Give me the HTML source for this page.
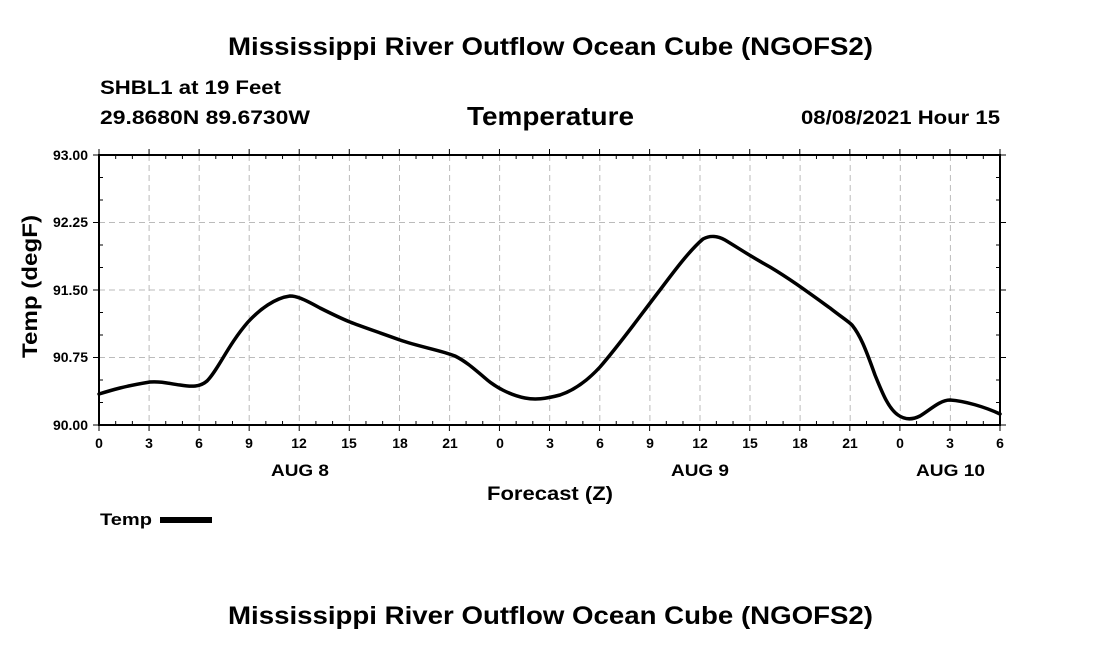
<!DOCTYPE html>
<html><head><meta charset="utf-8"><style>
html,body{margin:0;padding:0;background:#fff;}
svg{display:block;font-family:"Liberation Sans",Arial,sans-serif;font-weight:bold;}
</style></head><body>
<svg width="1100" height="650" viewBox="0 0 1100 650" xmlns="http://www.w3.org/2000/svg">
<rect width="1100" height="650" fill="#fff"/>
<text x="228" y="55" font-size="25" textLength="645" lengthAdjust="spacingAndGlyphs">Mississippi River Outflow Ocean Cube (NGOFS2)</text>
<text x="228" y="624" font-size="25" textLength="645" lengthAdjust="spacingAndGlyphs">Mississippi River Outflow Ocean Cube (NGOFS2)</text>
<text x="100" y="94" font-size="19" textLength="181" lengthAdjust="spacingAndGlyphs">SHBL1 at 19 Feet</text>
<text x="100" y="124" font-size="19" textLength="210" lengthAdjust="spacingAndGlyphs">29.8680N  89.6730W</text>
<text x="467" y="125" font-size="26" textLength="167" lengthAdjust="spacingAndGlyphs">Temperature</text>
<text x="801" y="124" font-size="19" textLength="199" lengthAdjust="spacingAndGlyphs">08/08/2021 Hour 15</text>
<g stroke="#bbb" stroke-width="1" stroke-dasharray="6,4" fill="none">
<line x1="149.1" y1="155" x2="149.1" y2="425"/><line x1="199.2" y1="155" x2="199.2" y2="425"/><line x1="249.2" y1="155" x2="249.2" y2="425"/><line x1="299.3" y1="155" x2="299.3" y2="425"/><line x1="349.4" y1="155" x2="349.4" y2="425"/><line x1="399.5" y1="155" x2="399.5" y2="425"/><line x1="449.6" y1="155" x2="449.6" y2="425"/><line x1="499.6" y1="155" x2="499.6" y2="425"/><line x1="549.7" y1="155" x2="549.7" y2="425"/><line x1="599.8" y1="155" x2="599.8" y2="425"/><line x1="649.9" y1="155" x2="649.9" y2="425"/><line x1="700" y1="155" x2="700" y2="425"/><line x1="750" y1="155" x2="750" y2="425"/><line x1="800.1" y1="155" x2="800.1" y2="425"/><line x1="850.2" y1="155" x2="850.2" y2="425"/><line x1="900.3" y1="155" x2="900.3" y2="425"/><line x1="950.4" y1="155" x2="950.4" y2="425"/>
<line x1="99" y1="222.5" x2="1000" y2="222.5"/><line x1="99" y1="290" x2="1000" y2="290"/><line x1="99" y1="357.5" x2="1000" y2="357.5"/>
</g>
<rect x="99" y="155" width="901" height="270" fill="none" stroke="#000" stroke-width="2"/>
<g id="ticks" stroke="#000" stroke-width="1"></g>
<g font-size="14" text-anchor="middle">
<text x="99" y="448">0</text><text x="149" y="448">3</text><text x="199" y="448">6</text><text x="249" y="448">9</text><text x="299" y="448">12</text><text x="349" y="448">15</text><text x="400" y="448">18</text><text x="450" y="448">21</text><text x="500" y="448">0</text><text x="550" y="448">3</text><text x="600" y="448">6</text><text x="650" y="448">9</text><text x="700" y="448">12</text><text x="750" y="448">15</text><text x="800" y="448">18</text><text x="850" y="448">21</text><text x="900" y="448">0</text><text x="950" y="448">3</text><text x="1000" y="448">6</text>
</g>
<g font-size="17">
<text x="271" y="476" textLength="58" lengthAdjust="spacingAndGlyphs">AUG 8</text>
<text x="671" y="476" textLength="58" lengthAdjust="spacingAndGlyphs">AUG 9</text>
<text x="916" y="476" textLength="69" lengthAdjust="spacingAndGlyphs">AUG 10</text>
</g>
<g font-size="14" text-anchor="end">
<text x="88" y="160">93.00</text><text x="88" y="227">92.25</text><text x="88" y="295">91.50</text><text x="88" y="362">90.75</text><text x="88" y="430">90.00</text>
</g>
<text x="487" y="500" font-size="19" textLength="126" lengthAdjust="spacingAndGlyphs">Forecast (Z)</text>
<text transform="translate(37,358) rotate(-90)" font-size="21" textLength="143" lengthAdjust="spacingAndGlyphs">Temp (degF)</text>
<text x="100" y="525" font-size="17" textLength="52" lengthAdjust="spacingAndGlyphs">Temp</text>
<rect x="160" y="517" width="52" height="6" fill="#000"/>
<path fill="none" stroke="#000" stroke-width="3.5" stroke-linejoin="round" stroke-linecap="round" d="M99,394 C112,390 125,386 150,382 C163,381 170,384 180,385 C192,387 200,387 207,381 C218,370 228,345 248,322 C260,309 275,298 290,296 C296,296 302,298 320,308 C332,314 340,318 350,322 C360,326 375,331 400,340 C420,347 440,350 455,356 C465,361 472,367 485,378 C495,387 510,395 525,398 C535,400 545,399 560,395 C575,390 588,380 600,367 C620,344 640,316 660,290 C675,270 690,250 703,239 C710,235 718,236 725,240 C740,249 750,256 770,267 C790,279 805,290 830,308 C840,316 848,321 852,325 C860,335 865,347 875,375 C882,392 888,408 898,415 C905,420 912,420 920,416 C930,410 940,400 950,400 C965,401 985,407 1000,414"/>
</svg>
<script>
(function(){var g=document.getElementById('ticks'),s='';
for(var h=0;h<=54;h++){var x=99+h*901/54;var maj=h%3==0;
s+='<line x1="'+x+'" y1="155" x2="'+x+'" y2="'+(maj?149:159)+'"/>';
s+='<line x1="'+x+'" y1="425" x2="'+x+'" y2="'+(maj?431:421)+'"/>';}
for(var i=0;i<=12;i++){var y=155+i*22.5;var maj=i%3==0;
s+='<line x1="99" y1="'+y+'" x2="'+(maj?93:103)+'" y2="'+y+'"/>';
s+='<line x1="1000" y1="'+y+'" x2="'+(maj?1006:996)+'" y2="'+y+'"/>';}
g.innerHTML=s;})();
</script>
</body></html>
